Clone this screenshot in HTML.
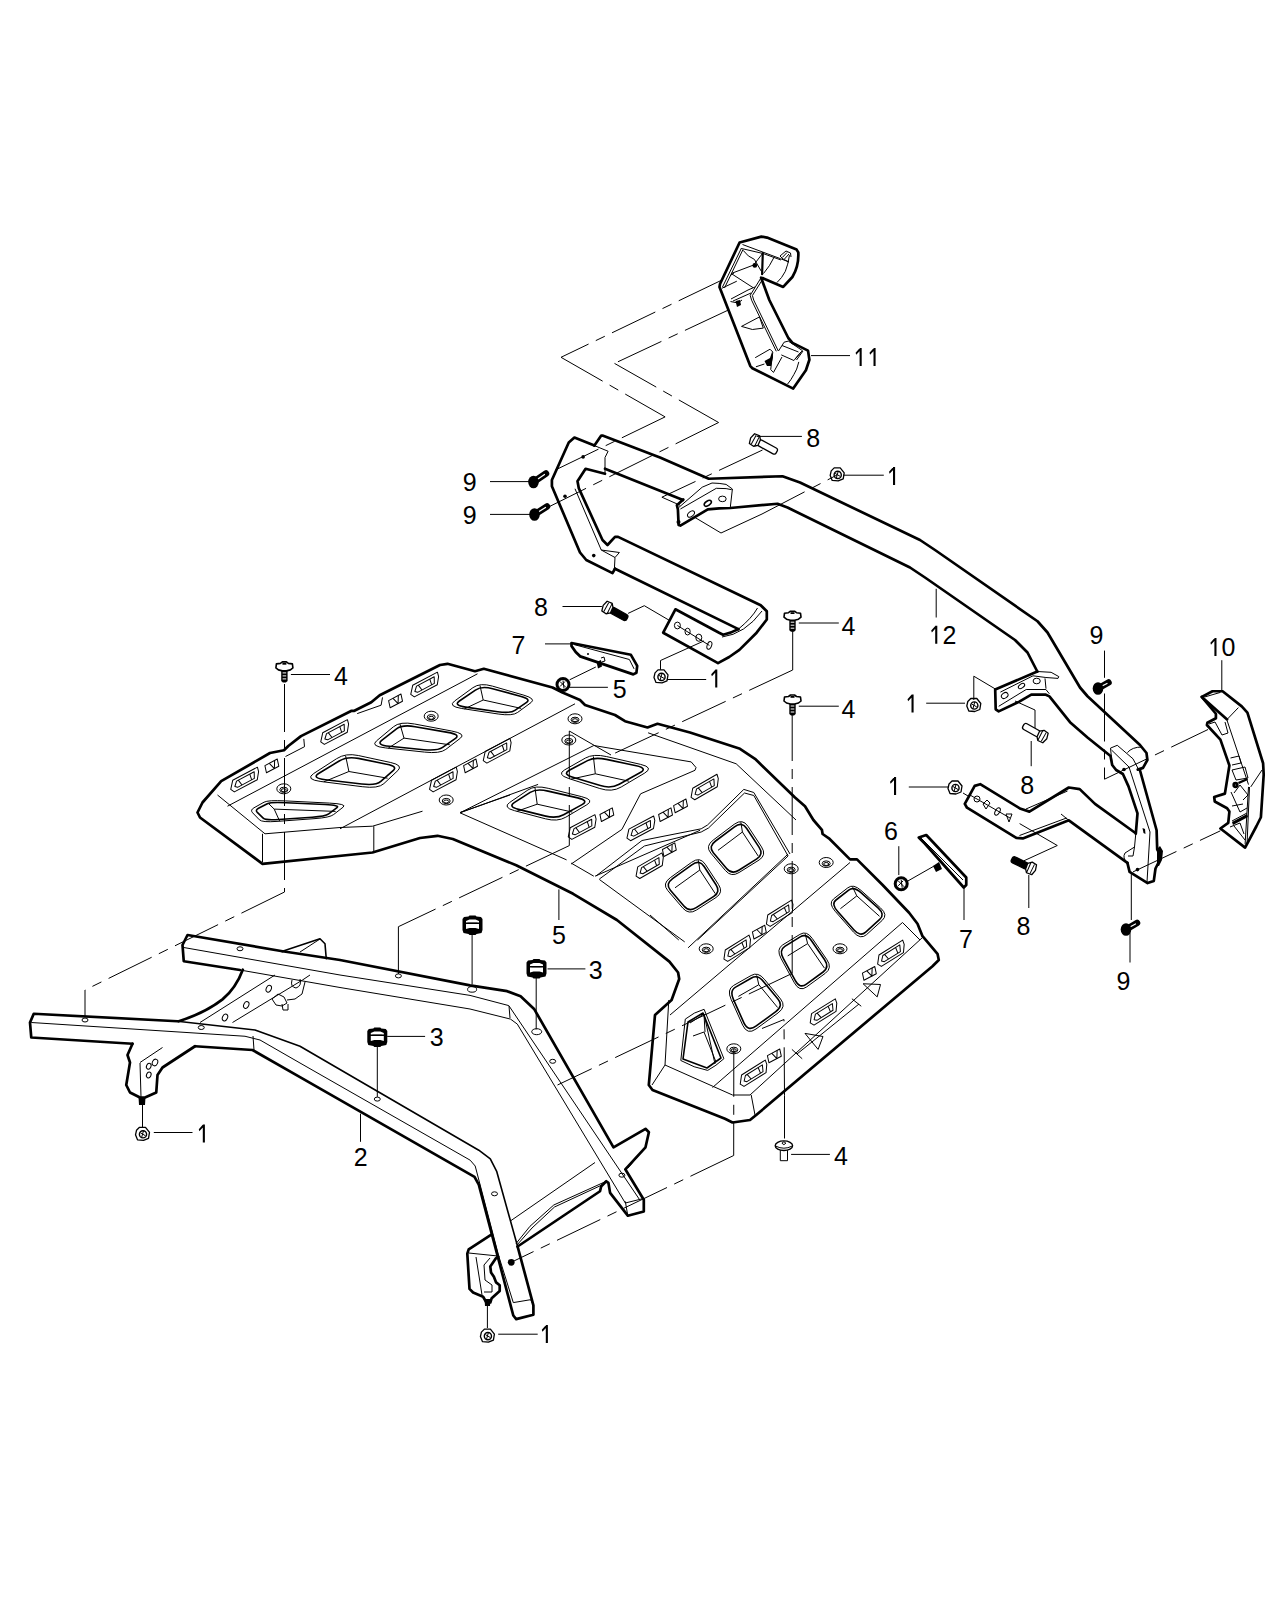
<!DOCTYPE html>
<html><head><meta charset="utf-8"><title>Parts diagram</title>
<style>
html,body{margin:0;padding:0;background:#fff;}
svg{display:block;}
.k{fill:none;stroke:#000;stroke-width:2.7;stroke-linejoin:round;stroke-linecap:round;}
.m{fill:none;stroke:#000;stroke-width:1.6;stroke-linejoin:round;stroke-linecap:round;}
.t{fill:none;stroke:#000;stroke-width:1;stroke-linejoin:round;}
.d{fill:none;stroke:#000;stroke-width:1;stroke-dasharray:48 8 10 8;}
.f{fill:#000;stroke:none;}
text{font-family:"Liberation Sans",sans-serif;font-size:25px;fill:#000;}
</style></head><body>
<svg width="1280" height="1600" viewBox="0 0 1280 1600">
<!-- 10_p11.svg -->
<g id="p11">
<path class="k" d="M739.6,242.5 L761.4,236.6 L767,237.6 L796.6,249.6 L798.3,252.4 Q799,266 792.4,277 L783.2,286.9 L763.5,278.4 L761.1,277.7 L769.3,300 L788.3,338 L792.5,342.9 L808,350.6 L809.4,359.8 L805.9,370.3 L793.2,388.6 L752.4,368.2 L750.3,366.1 L719.5,287 L720,284 Z"/>
<!-- top face -->
<path class="t" d="M742.5,244.5 L780.5,258.7 L789,262 M741.5,248.5 L763,253.5 L781,260 M789,262 L783,259 L780,256 L786,251 L790.5,253 L791,257 M782.3,257.5 L787,252.5 M784.5,259 L789,254"/>
<path class="t" d="M741.5,248 L722.5,287 M743,249.5 L724.5,288"/>
<path class="m" d="M762.8,253.1 L762.1,274.2" style="stroke-width:2.2"/>
<path class="t" d="M743.1,250.3 Q748,257 754.4,259.4 L761.4,271.4 M731.2,273.5 L753.7,265 L762.8,253.1 M731.2,273.5 L753,287.6 M731,275 L734,273"/>
<path class="t" d="M774,257.3 Q770,266 763.5,273.5 M789.5,255.2 Q788,265 785.3,271.4 Q782,278 776.9,282.6"/>
<circle class="f" cx="754.8" cy="265.4" r="2.4"/>
<!-- center rib -->
<path class="t" d="M761.1,277.7 L750.2,295.3 L751.6,300.2 L776.3,351.3 M763.2,278.5 L752.4,295.5 L753.7,300 L778.3,351"/>
<path class="t" d="M722,288.2 L736.8,281.2 M741.5,326.4 L759.5,316.9 L763.3,328.1 L752.4,329.5 Z"/>
<path class="t" d="M731,299 L748,290 L755,287 M733,301 L751,293 M730.5,301.5 L738,303 L742,300"/>
<path class="f" d="M735.5,301 L740,300 L741,305 L737,307 Z"/>
<!-- bottom end -->
<path class="t" d="M784.1,342.2 L788.3,341.1 L802.4,350.6 L793.9,360.5 L781.3,354.9 M778.5,351 L784.1,342.2 M782,345.5 L798.5,352 M801,352 L795,359 M803,351 L796.5,360"/>
<path class="t" d="M755.2,357.7 L770,349.2 L772.8,352 L770.7,369.6 L773.5,372.4 L782,356.96 M755.9,366.8 L764.4,364 M798.8,361.9 Q797,370 793.9,374.5 Q791,380 787.6,384"/>
<path class="f" d="M764.5,361 L770,358 L772,352 L773,357 L771,366 L767,366 Z"/>
</g>
<g id="zig">
<path class="t" d="M811,355.6 L850,355.6"/>
</g>

<!-- 20_p12.svg -->
<g id="p12">
<!-- outer U + cap -->
<path class="k" d="M594.4,445.6 L574.4,437.5 L568.75,442.5 L551.9,480 L551.9,486.25 L580,552.5 L586.25,560 L612.5,573.1 L615,568.75"/>
<path class="k" d="M594.4,445.6 L601.25,435.6 L602.5,435.6 L660,457.5 L708.75,478.75 L782.5,476.25 L800,482.5 L920,540 L935,550 L1037.5,621.25 L1047.5,632.5 L1080,687.5 L1087.5,696.25 L1140,745 L1146.5,753 L1147.4,760 L1143,767.9 L1137.75,769.6"/>
<path class="t" d="M594.4,445.6 L608.1,451.25 L605,457.5 L605,473.75"/>
<path class="k" d="M605,468.75 L683,500"/>
<!-- inner U -->
<path class="k" d="M605,473.75 L585.6,468.75 L577.5,481.25 L578.75,488.1 L602.5,540 L607.5,545 L615,536.9 L618.1,536.9 L760.7,605.2 L766.8,611.3 L766.8,619.5 L756.6,632.7 L739.4,649.9 L729.2,657 L718,663.1 L663.2,632.7 L675.4,609.3 L719.1,632.7 L723.1,634.7 Q731,633 738.4,629.1"/>
<path class="k" d="M615,568.75 L738.4,629.1"/>
<path class="t" d="M738.4,629.1 Q752,618 757.5,608 M722,637 Q745,634 762,611 M575,488.75 L601.25,550 L619.4,552.5 L615,557.5 L614.4,568.75 M601.25,550 L615,557.5"/>
<circle class="f" cx="593.75" cy="555.6" r="1.8"/><circle class="f" cx="565" cy="496.25" r="1.8"/><circle class="f" cx="583.1" cy="456.9" r="1.8"/>
<!-- lower bracket holes -->
<g class="t"><ellipse cx="677.4" cy="625.5" rx="3" ry="3.4"/><ellipse cx="687.6" cy="631.6" rx="2.6" ry="3.4"/><ellipse cx="698.8" cy="637.7" rx="3" ry="3.6"/><ellipse cx="709.4" cy="645.4" rx="2.2" ry="4" transform="rotate(20 709.4 645.4)"/><path d="M677.4,625.5 L709.4,645.4"/></g>
<!-- upper bracket -->
<path class="k" d="M683.2,499.5 L676.9,505.2 L677.9,509.4 L678.6,524.9 L680.4,525.6 L707.8,509.4 L719.1,508.3 L730.3,508 L777.5,503.75 L787.5,507.5 L910,567.5 L925,577.5 L1015,640 L1027.5,652.5 L1037.3,671.5"/>
<path class="t" d="M679,507.3 L702.2,487.2 L712,483 L719.1,483.4 L726.1,484.4 L732.4,489 L730.3,507.3 M680.4,509 L716.3,488.3 L726.1,488.6 L731.7,489.7"/>
<g class="t"><ellipse cx="691" cy="514" rx="4" ry="2.4" transform="rotate(-40 691 514)"/><ellipse cx="707.8" cy="503.3" rx="4" ry="2.2" transform="rotate(-35 707.8 503.3)" style="stroke-width:1.6"/><ellipse cx="722.4" cy="498.9" rx="3.8" ry="2.8"/></g>
<circle class="f" cx="678.5" cy="522" r="2"/>
</g>

<!-- 21_p12r.svg -->
<g id="p12r">
<path class="k" d="M1037.3,671.5 L995.2,689.5 L995.7,709.3 L998.7,711.4 L1019.3,701.6 L1031.3,694.7 L1045.9,694.7 L1049.4,696.4 L1070,722.2 L1087.5,737.5 L1110.5,756 L1112.2,765 L1116.1,770 L1122.9,774 L1128.5,786.4 L1137.5,813.4 L1135.8,833.6"/>
<path class="k" d="M1139.75,769.5 L1156.6,830.25 L1157.2,849.4 L1160,855 L1158.9,861.75 L1155.5,868.5 L1153.8,880.9 L1147.6,883.1 L1129.6,871.9 L1127.4,862.9"/>
<path class="t" d="M1127.4,752.6 Q1132,747 1142,747 M1110.5,748.1 L1117.25,745.3 L1133,758.8 L1138.6,769.5 M1110.5,748.1 L1112.2,765 M1111.5,750 L1129,767 L1150,832 L1147,882 M1135.8,833.6 L1134.5,847 L1125,853 Q1122,858 1127.4,862.9 M1134.5,847 L1133,856 L1128,856"/>
<circle class="f" cx="1124" cy="769.5" r="1.8"/><circle class="f" cx="1137.5" cy="869.6" r="1.8"/><path class="f" d="M1142.5,828 l2.5,1 l0.5,5 l-2,-1 Z"/>
<path class="f" d="M1157,849 l3,-3 l3,5 l-1,9 l-3,6 l-2,0 Z"/>
<!-- lower arm -->
<path class="k" d="M1134.7,832.5 L1095,803.9 L1079.7,789.1 L1068.8,787.5 L1029.4,811.6 L1020.6,808.8 L980.2,784.2 L974.7,785.9 L964.8,803.9 L967,807.7 L1016.3,837.8 L1022.8,838.4 L1068.8,820.3 L1127.4,862.9"/>
<path class="t" d="M1026,809 L1067.5,791 M1019.5,835.5 L1066.5,818 M1061,814 L1068.8,820.3"/>
<g class="t"><circle cx="977" cy="799" r="3"/><path d="M983,804 L987,800 L990,803 L986,809 Z"/><ellipse cx="997.5" cy="811.5" rx="2.2" ry="4" transform="rotate(30 997.5 811.5)"/><path d="M1006,814 L1012,814 L1009,822 Z"/><path d="M970,795 L1010,818"/></g>
<!-- upper right bracket -->
<path class="t" d="M1037.3,671.5 L1051.1,672.3 L1058.8,676.6 L1058,678.4 L1045.9,677.5 L1033,675.8 L1000.4,692.1 M998.7,706.3 L1026.2,689.5 L1045.9,689.5 L1049.4,693.8 M1045,678.4 L1046,688.7"/>
<g class="t"><ellipse cx="1004.7" cy="695.5" rx="3.6" ry="2.6" transform="rotate(-35 1004.7 695.5)"/><ellipse cx="1021.5" cy="686" rx="3.6" ry="2" transform="rotate(-35 1021.5 686)"/><ellipse cx="1036.7" cy="681" rx="3.6" ry="2.8"/></g>
</g>
</g>

<!-- 22_p10.svg -->
<g id="p10">
<path class="k" d="M1201.8,696.9 L1212.5,691.25 L1222.6,691.25 L1241.75,706.4 L1247.4,712.6 L1263.1,763.25 L1263.7,774.5 L1260.9,817.25 L1256.4,826.25 L1245.1,847.6 L1220.4,828.5 L1228.25,822.9 L1229.4,811.6 L1227.1,808.25 L1214.75,801.5 L1214.2,797 L1224.9,793.6 L1229.4,765.5 L1220.4,739.6 L1206.9,725 L1207.4,722.75 L1215.9,718.25 L1215.9,713.75 Z"/>
<path class="k" d="M1201.8,696.9 L1227.1,719.4"/>
<path class="t" d="M1204.6,697 L1220.4,692.4 M1227.1,719.4 L1238.4,707.6 M1227.1,720.5 L1248.5,784.6 M1250.75,786.9 L1262,770 M1248.5,786.9 L1245.1,844.25 M1249.5,787 L1247,845"/>
<path class="t" d="M1209,724 L1215,722 L1222,735 L1228,733 L1225,722 M1230.5,758 L1239,756 L1241,763 L1232,765 M1232,770 L1245,767 L1248,778 L1236,780 Z M1234,793 L1240,785 L1248,795 L1243,800 M1231,792 L1240,812 L1247,808 M1232,806 L1243,804 M1232,821 L1247,813 M1234,826 L1245,840 M1230,827 L1240,823 L1244,834"/>
<path class="f" d="M1232,822 l15,-8 l1,3 l-15,8 Z M1238,782 l9,-4 l1,2 l-9,4 Z"/>
<circle class="k" cx="1235.5" cy="785" r="1.8"/>
</g>

<!-- 30_rack.svg -->
<g id="rack">
<path class="k" d="M447.5,663.8 L440.0,665.0 L379.7,695.3 L371.3,702.3 L354.4,710.8 L351.6,710.8 L301.0,736.1 L288.3,746.0 L284.0,750.2 L270.0,753.0 L221.2,781.2 L202.5,802.5 L197.5,812.5 L200.0,817.5 L262.5,863.8 L372.5,852.5 L420.0,838.0 L437.5,835.8 L452.8,839.0 L516.2,865.3 L573.1,893.8 L616.9,920.0 L669.4,961.6 L678.1,972.5 L679.2,979.0 L671.6,1000.0 L655.0,1015.0 L648.8,1085.0 L652.5,1090.0 L725.0,1118.8 L732.5,1122.5 L750.0,1120.0 L756.2,1115.0 L932.5,966.2 L938.8,960.0 L937.5,953.8 L922.5,936.2 L917.5,923.8 L909.1,912.8 L882.4,884.7 L857.0,859.4 L850.0,859.4 L828.9,838.3 L822.6,834.0 L821.9,829.8 L813.4,820.0 L805.0,806.2 L795.0,797.5 L755.0,758.8 L740.0,748.8 L690.0,732.5 L657.5,723.8 L647.5,727.5 L625.0,721.2 L615.0,715.0 L585.0,705.0 L580.0,700.0 L562.5,692.5 L552.5,687.5 L483.8,668.8 L475.0,671.2 L447.5,663.8 Z"/>
<path class="t" d="M217.5,795.0 L265.0,833.8 L340.0,827.5 L372.5,826.2 L422.5,811.2"/>
<path class="t" d="M262.5,833.8 L262.5,862.0"/>
<path class="t" d="M373.8,826.2 L373.8,852.5"/>
<path class="t" d="M227.5,806.2 L477.5,673.8"/>
<path class="t" d="M340.0,828.8 L575.0,703.8"/>
<path class="t" d="M460.0,812.8 L538.1,784.4"/>
<path class="t" d="M460.0,812.8 L566.6,859.9"/>
<path class="t" d="M571.2,863.1 L593.8,876.2"/>
<path class="t" d="M460.0,812.8 L593.8,745.5 L691.2,761.9 L696.0,767.5 L695.0,770.3 L640.6,793.8 L621.9,829.4 L571.2,864.0"/>
<path class="t" d="M595.0,876.2 L700.0,830.3"/>
<path class="t" d="M599.4,879.5 L684.7,941.9"/>
<path class="t" d="M599.4,879.0 L644.4,846.0 L701.2,832.0 L708.5,828.0 L744.5,793.0 L753.8,795.5 L788.1,856.0"/>
<path class="t" d="M596.0,876.0 L642.0,840.5 L701.2,828.8 L707.5,825.0 L743.8,789.4 L753.8,792.5 L790.0,854.0"/>
<path class="t" d="M788.1,856.0 L697.5,940.0"/>
<path class="t" d="M650.0,915.0 L678.8,940.0"/>
<path class="t" d="M648.1,732.8 L736.2,763.8 L796.0,820.0"/>
<path class="t" d="M670.0,1015.0 L850.0,862.5"/>
<path class="t" d="M668.8,1000.0 L665.0,1065.0 L732.5,1095.0 L750.0,1095.0 L922.5,937.5"/>
<path class="t" d="M751.2,1095.0 L755.0,1115.0"/>
<path class="t" d="M712.5,1087.5 L902.5,922.5 L920.0,940.0"/>
<path class="t" d="M665.0,1065.0 L652.0,1085.0"/>
<path class="t" d="M460.0,812.5 L510.0,795.0"/>
<path class="t" d="M688.1,947.8 L788.1,854.0"/>
<path class="t" d="M264.0,802.2 Q268.0,800.0 285.4,800.9 L329.6,803.1 Q347.0,804.0 343.3,807.0 L333.7,814.5 Q330.0,817.5 315.0,818.6 L277.0,821.4 Q262.0,822.5 259.4,819.8 L252.6,812.8 Q250.0,810.0 254.0,807.8 Z"/>
<path class="m" d="M267.3,803.7 Q270.8,801.9 286.1,802.7 L325.0,804.5 Q340.3,805.2 337.0,807.7 L328.7,813.9 Q325.4,816.3 312.2,817.2 L278.7,819.5 Q265.5,820.4 263.2,818.1 L257.3,812.4 Q255.0,810.1 258.5,808.3 Z"/>
<path class="t" d="M268.0,803.0 L274.2,809.1 L335.6,811.4 M274.2,809.1 L279.7,821.2"/>
<path class="t" d="M336.6,758.7 Q345.6,752.8 358.3,755.5 L390.7,762.5 Q403.4,765.3 397.9,770.5 L383.9,783.6 Q378.4,788.8 362.2,786.7 L320.9,781.5 Q304.7,779.4 313.7,773.5 Z"/>
<path class="m" d="M339.2,761.0 Q347.1,756.2 358.3,758.4 L386.8,764.2 Q398.0,766.4 393.1,770.7 L380.8,781.4 Q376.0,785.7 361.7,784.0 L325.4,779.7 Q311.1,778.0 319.0,773.2 Z"/>
<path class="t" d="M345.6,755.8 L348.9,771.5 L387.6,778.2 M348.9,771.5 L323.9,781.8"/>
<path class="t" d="M393.4,726.8 Q400.0,721.2 414.6,724.0 L451.7,731.0 Q466.2,733.8 460.5,738.1 L445.8,749.4 Q440.0,753.8 424.6,752.1 L385.4,747.9 Q370.0,746.2 376.6,740.8 Z"/>
<path class="m" d="M396.5,728.9 Q402.3,724.4 415.1,726.7 L447.8,732.4 Q460.6,734.6 455.5,738.3 L442.6,747.4 Q437.5,751.0 423.9,749.7 L389.4,746.3 Q375.9,744.9 381.7,740.4 Z"/>
<path class="t" d="M400.0,724.2 L404.0,738.1 L449.8,744.8 M404.0,738.1 L388.2,748.2"/>
<path class="t" d="M472.9,687.7 Q480.0,682.5 492.4,686.1 L523.9,695.2 Q536.2,698.8 531.0,702.6 L517.7,712.4 Q512.5,716.2 498.2,714.0 L461.8,708.5 Q447.5,706.2 454.6,701.0 Z"/>
<path class="m" d="M475.4,690.1 Q481.7,685.8 492.6,688.8 L520.3,696.2 Q531.2,699.1 526.6,702.3 L514.9,710.3 Q510.3,713.5 497.7,711.7 L465.7,707.1 Q453.1,705.3 459.4,701.0 Z"/>
<path class="t" d="M480.0,685.5 L483.2,700.0 L521.2,708.4 M483.2,700.0 L464.4,708.9"/>
<path class="t" d="M585.3,758.1 Q593.4,753.5 606.7,756.6 L640.7,764.4 Q654.0,767.5 644.8,773.0 L621.2,787.0 Q612.0,792.5 599.8,788.5 L568.7,778.5 Q556.5,774.5 564.6,769.9 Z"/>
<path class="m" d="M587.5,760.6 Q594.7,756.8 606.4,759.4 L636.3,765.8 Q648.0,768.3 639.9,772.8 L619.2,784.3 Q611.0,788.8 600.3,785.6 L572.9,777.3 Q562.2,774.0 569.3,770.3 Z"/>
<path class="t" d="M593.4,756.5 L595.3,773.8 L628.9,781.2 M595.3,773.8 L570.9,779.2"/>
<path class="t" d="M527.9,790.0 Q535.0,785.0 548.2,788.3 L581.8,796.7 Q595.0,800.0 586.8,804.8 L565.8,817.2 Q557.5,822.0 545.4,818.8 L514.6,810.7 Q502.5,807.5 509.6,802.5 Z"/>
<path class="m" d="M530.2,792.4 Q536.5,788.4 548.1,791.1 L577.7,797.9 Q589.3,800.7 582.0,804.6 L563.6,814.7 Q556.3,818.7 545.7,816.1 L518.5,809.4 Q507.9,806.8 514.2,802.7 Z"/>
<path class="t" d="M535.0,788.0 L537.2,804.2 L572.4,812.1 M537.2,804.2 L516.8,811.3"/>
<path class="t" d="M734.2,824.3 Q742.5,818.1 747.9,826.2 L761.5,846.9 Q766.9,855.0 759.1,860.0 L739.1,872.5 Q731.2,877.5 725.5,870.6 L710.8,853.1 Q705.0,846.2 713.2,840.1 Z"/>
<path class="m" d="M734.5,826.8 Q741.9,821.2 746.7,828.5 L759.0,847.1 Q763.9,854.4 756.8,858.9 L738.8,870.2 Q731.8,874.7 726.6,868.5 L713.3,852.7 Q708.1,846.5 715.6,841.0 Z"/>
<path class="t" d="M718.0,850.3 L742.4,832.0 L758.2,856.0"/>
<path class="t" d="M740.9,822.2 L742.4,832.0"/>
<path class="t" d="M691.6,862.3 Q700.0,856.2 705.2,864.2 L718.5,884.5 Q723.8,892.5 716.0,897.5 L696.5,910.0 Q688.8,915.0 682.8,908.1 L667.8,890.6 Q661.9,883.8 670.3,877.7 Z"/>
<path class="m" d="M691.8,864.8 Q699.4,859.3 704.1,866.5 L716.0,884.8 Q720.7,891.9 713.8,896.4 L696.2,907.7 Q689.2,912.2 683.9,906.0 L670.4,890.2 Q665.1,884.1 672.6,878.6 Z"/>
<path class="t" d="M675.0,887.8 L699.8,870.0 L715.2,893.5"/>
<path class="t" d="M698.4,860.3 L699.8,870.0"/>
<path class="t" d="M847.8,887.8 Q853.3,883.5 861.0,890.4 L880.6,908.0 Q888.3,914.9 882.2,920.4 L866.6,934.6 Q860.5,940.1 853.4,932.0 L835.2,911.3 Q828.1,903.2 833.6,898.9 Z"/>
<path class="m" d="M848.7,890.1 Q853.7,886.2 860.7,892.4 L878.3,908.2 Q885.2,914.5 879.7,919.4 L865.7,932.1 Q860.2,937.1 853.8,929.8 L837.5,911.2 Q831.0,903.9 836.0,900.0 Z"/>
<path class="t" d="M840.4,908.7 L856.8,895.9 L879.5,916.3"/>
<path class="t" d="M852.7,887.2 L856.8,895.9"/>
<path class="t" d="M799.9,934.4 Q806.6,930.2 812.3,938.5 L826.9,959.7 Q832.6,968.0 825.3,973.3 L806.7,986.9 Q799.4,992.2 794.3,982.7 L781.1,958.6 Q776.0,949.1 782.7,944.9 Z"/>
<path class="m" d="M800.2,936.9 Q806.3,933.2 811.5,940.7 L824.6,959.7 Q829.7,967.2 823.1,972.0 L806.4,984.2 Q799.8,989.0 795.2,980.4 L783.4,958.7 Q778.8,950.2 784.8,946.4 Z"/>
<path class="t" d="M787.7,955.9 L807.6,943.6 L824.5,968.2"/>
<path class="t" d="M805.3,934.2 L807.6,943.6"/>
<path class="t" d="M751.1,975.5 Q758.0,971.5 764.3,979.2 L780.5,998.9 Q786.8,1006.6 778.1,1012.9 L756.0,1029.0 Q747.3,1035.3 742.7,1025.2 L731.2,999.6 Q726.6,989.5 733.5,985.5 Z"/>
<path class="m" d="M751.5,978.0 Q757.7,974.4 763.4,981.4 L777.9,999.1 Q783.6,1006.0 775.8,1011.7 L755.9,1026.2 Q748.0,1031.8 743.9,1022.8 L733.5,999.7 Q729.4,990.6 735.6,987.1 Z"/>
<path class="t" d="M738.4,996.4 L758.8,984.7 L777.6,1007.5"/>
<path class="t" d="M756.7,975.4 L758.8,984.7"/>
<path class="t" d="M685.3,1019.1 Q694,1012 704.1,1009.3 L723.9,1058.7 Q716,1066 707.7,1070.4 Q694,1068 680.8,1060.5 Z"/>
<path class="m" d="M688,1022 L703,1013 L721,1058 L707,1068 L683,1059 Z"/>
<path class="t" d="M690,1023 L704,1014 L715,1064 M693,1036 L704,1032 L716,1062 M704,1014 L705,1032"/>
<path class="t" d="M805,1033.4 L823,1036.5 L818.1,1049.4 Z M863.1,983.75 L880.5,984.5 L877.2,996.9 Z M791.9,1049.4 L802.2,1058.75 M851.9,998.75 L861.25,1006.25 M797,1054 L859,1004"/>
<g transform="translate(245.0 780.0) rotate(-28)"><polygon class="t" points="-17.0,1.6 -11.0,-5.5 17.0,-5.5 16.0,-1.1 11.0,5.5 -15.0,5.5"/><polygon class="t" points="-12,1 -8,-3 12,-3 9,3 -10,3"/><path class="t" d="M-6,-3 L-5,3 M7,-3 L6,3"/></g>
<g transform="translate(335.0 732.5) rotate(-28)"><polygon class="t" points="-17.0,1.6 -11.0,-5.5 17.0,-5.5 16.0,-1.1 11.0,5.5 -15.0,5.5"/><polygon class="t" points="-12,1 -8,-3 12,-3 9,3 -10,3"/><path class="t" d="M-6,-3 L-5,3 M7,-3 L6,3"/></g>
<g transform="translate(425.0 685.0) rotate(-28)"><polygon class="t" points="-17.0,1.6 -11.0,-5.5 17.0,-5.5 16.0,-1.1 11.0,5.5 -15.0,5.5"/><polygon class="t" points="-12,1 -8,-3 12,-3 9,3 -10,3"/><path class="t" d="M-6,-3 L-5,3 M7,-3 L6,3"/></g>
<g transform="translate(497.5 751.2) rotate(-28)"><polygon class="t" points="-17.0,1.6 -11.0,-5.5 17.0,-5.5 16.0,-1.1 11.0,5.5 -15.0,5.5"/><polygon class="t" points="-12,1 -8,-3 12,-3 9,3 -10,3"/><path class="t" d="M-6,-3 L-5,3 M7,-3 L6,3"/></g>
<g transform="translate(443.8 780.0) rotate(-28)"><polygon class="t" points="-17.0,1.6 -11.0,-5.5 17.0,-5.5 16.0,-1.1 11.0,5.5 -15.0,5.5"/><polygon class="t" points="-12,1 -8,-3 12,-3 9,3 -10,3"/><path class="t" d="M-6,-3 L-5,3 M7,-3 L6,3"/></g>
<g transform="translate(582.5 827.5) rotate(-28)"><polygon class="t" points="-17.0,1.6 -11.0,-5.5 17.0,-5.5 16.0,-1.1 11.0,5.5 -15.0,5.5"/><polygon class="t" points="-12,1 -8,-3 12,-3 9,3 -10,3"/><path class="t" d="M-6,-3 L-5,3 M7,-3 L6,3"/></g>
<g transform="translate(641.2 828.8) rotate(-28)"><polygon class="t" points="-17.0,1.6 -11.0,-5.5 17.0,-5.5 16.0,-1.1 11.0,5.5 -15.0,5.5"/><polygon class="t" points="-12,1 -8,-3 12,-3 9,3 -10,3"/><path class="t" d="M-6,-3 L-5,3 M7,-3 L6,3"/></g>
<g transform="translate(705.0 787.5) rotate(-30)"><polygon class="t" points="-17.0,1.6 -11.0,-5.5 17.0,-5.5 16.0,-1.1 11.0,5.5 -15.0,5.5"/><polygon class="t" points="-12,1 -8,-3 12,-3 9,3 -10,3"/><path class="t" d="M-6,-3 L-5,3 M7,-3 L6,3"/></g>
<g transform="translate(650.0 866.2) rotate(-30)"><polygon class="t" points="-17.0,1.6 -11.0,-5.5 17.0,-5.5 16.0,-1.1 11.0,5.5 -15.0,5.5"/><polygon class="t" points="-12,1 -8,-3 12,-3 9,3 -10,3"/><path class="t" d="M-6,-3 L-5,3 M7,-3 L6,3"/></g>
<g transform="translate(780.0 913.8) rotate(-32)"><polygon class="t" points="-17.0,1.6 -11.0,-5.5 17.0,-5.5 16.0,-1.1 11.0,5.5 -15.0,5.5"/><polygon class="t" points="-12,1 -8,-3 12,-3 9,3 -10,3"/><path class="t" d="M-6,-3 L-5,3 M7,-3 L6,3"/></g>
<g transform="translate(737.5 948.8) rotate(-32)"><polygon class="t" points="-17.0,1.6 -11.0,-5.5 17.0,-5.5 16.0,-1.1 11.0,5.5 -15.0,5.5"/><polygon class="t" points="-12,1 -8,-3 12,-3 9,3 -10,3"/><path class="t" d="M-6,-3 L-5,3 M7,-3 L6,3"/></g>
<g transform="translate(891.2 953.8) rotate(-32)"><polygon class="t" points="-17.0,1.6 -11.0,-5.5 17.0,-5.5 16.0,-1.1 11.0,5.5 -15.0,5.5"/><polygon class="t" points="-12,1 -8,-3 12,-3 9,3 -10,3"/><path class="t" d="M-6,-3 L-5,3 M7,-3 L6,3"/></g>
<g transform="translate(823.8 1012.5) rotate(-32)"><polygon class="t" points="-17.0,1.6 -11.0,-5.5 17.0,-5.5 16.0,-1.1 11.0,5.5 -15.0,5.5"/><polygon class="t" points="-12,1 -8,-3 12,-3 9,3 -10,3"/><path class="t" d="M-6,-3 L-5,3 M7,-3 L6,3"/></g>
<g transform="translate(753.8 1073.8) rotate(-32)"><polygon class="t" points="-17.0,1.6 -11.0,-5.5 17.0,-5.5 16.0,-1.1 11.0,5.5 -15.0,5.5"/><polygon class="t" points="-12,1 -8,-3 12,-3 9,3 -10,3"/><path class="t" d="M-6,-3 L-5,3 M7,-3 L6,3"/></g>
<g transform="translate(272.5 765.0) rotate(-28)"><polygon class="t" points="-7,-3 7,-3 5,4 -9,4"/><path class="t" d="M-2,-3 L0,4 L4,-3"/></g>
<g transform="translate(396.2 700.0) rotate(-28)"><polygon class="t" points="-7,-3 7,-3 5,4 -9,4"/><path class="t" d="M-2,-3 L0,4 L4,-3"/></g>
<g transform="translate(471.2 765.0) rotate(-28)"><polygon class="t" points="-7,-3 7,-3 5,4 -9,4"/><path class="t" d="M-2,-3 L0,4 L4,-3"/></g>
<g transform="translate(607.5 813.8) rotate(-28)"><polygon class="t" points="-7,-3 7,-3 5,4 -9,4"/><path class="t" d="M-2,-3 L0,4 L4,-3"/></g>
<g transform="translate(666.2 813.8) rotate(-28)"><polygon class="t" points="-7,-3 7,-3 5,4 -9,4"/><path class="t" d="M-2,-3 L0,4 L4,-3"/></g>
<g transform="translate(681.2 805.0) rotate(-28)"><polygon class="t" points="-7,-3 7,-3 5,4 -9,4"/><path class="t" d="M-2,-3 L0,4 L4,-3"/></g>
<g transform="translate(670.0 848.8) rotate(-28)"><polygon class="t" points="-7,-3 7,-3 5,4 -9,4"/><path class="t" d="M-2,-3 L0,4 L4,-3"/></g>
<g transform="translate(760.0 931.2) rotate(-28)"><polygon class="t" points="-7,-3 7,-3 5,4 -9,4"/><path class="t" d="M-2,-3 L0,4 L4,-3"/></g>
<g transform="translate(870.0 972.5) rotate(-28)"><polygon class="t" points="-7,-3 7,-3 5,4 -9,4"/><path class="t" d="M-2,-3 L0,4 L4,-3"/></g>
<g transform="translate(775.0 1055.0) rotate(-28)"><polygon class="t" points="-7,-3 7,-3 5,4 -9,4"/><path class="t" d="M-2,-3 L0,4 L4,-3"/></g>
<g class="t"><ellipse cx="575.0" cy="718.8" rx="7" ry="5"/><ellipse cx="575.0" cy="719.8" rx="4" ry="2.6"/><ellipse cx="575.0" cy="720.2" rx="2.5" ry="1.5"/></g>
<g class="t"><ellipse cx="568.8" cy="740.0" rx="7" ry="5"/><ellipse cx="568.8" cy="741.0" rx="4" ry="2.6"/><ellipse cx="568.8" cy="741.5" rx="2.5" ry="1.5"/></g>
<g class="t"><ellipse cx="446.2" cy="800.0" rx="7" ry="5"/><ellipse cx="446.2" cy="801.0" rx="4" ry="2.6"/><ellipse cx="446.2" cy="801.5" rx="2.5" ry="1.5"/></g>
<g class="t"><ellipse cx="431.2" cy="716.2" rx="7" ry="5"/><ellipse cx="431.2" cy="717.2" rx="4" ry="2.6"/><ellipse cx="431.2" cy="717.8" rx="2.5" ry="1.5"/></g>
<g class="t"><ellipse cx="283.8" cy="788.8" rx="7" ry="5"/><ellipse cx="283.8" cy="789.8" rx="4" ry="2.6"/><ellipse cx="283.8" cy="790.2" rx="2.5" ry="1.5"/></g>
<g class="t"><ellipse cx="791.2" cy="868.8" rx="7" ry="5"/><ellipse cx="791.2" cy="869.8" rx="4" ry="2.6"/><ellipse cx="791.2" cy="870.2" rx="2.5" ry="1.5"/></g>
<g class="t"><ellipse cx="826.2" cy="862.5" rx="7" ry="5"/><ellipse cx="826.2" cy="863.5" rx="4" ry="2.6"/><ellipse cx="826.2" cy="864.0" rx="2.5" ry="1.5"/></g>
<g class="t"><ellipse cx="706.2" cy="948.8" rx="7" ry="5"/><ellipse cx="706.2" cy="949.8" rx="4" ry="2.6"/><ellipse cx="706.2" cy="950.2" rx="2.5" ry="1.5"/></g>
<g class="t"><ellipse cx="840.0" cy="948.8" rx="7" ry="5"/><ellipse cx="840.0" cy="949.8" rx="4" ry="2.6"/><ellipse cx="840.0" cy="950.2" rx="2.5" ry="1.5"/></g>
<g class="t"><ellipse cx="733.8" cy="1048.8" rx="7" ry="5"/><ellipse cx="733.8" cy="1049.8" rx="4" ry="2.6"/><ellipse cx="733.8" cy="1050.2" rx="2.5" ry="1.5"/></g>
<path class="t" d="M285.5,756.5 L304.5,746.7 L303.8,738.9 M357.2,713.6 L381.1,705.2 L382.5,697.4"/>
</g>
<!-- 40_frame.svg -->
<g id="frame">
<!-- front tube -->
<path class="k" d="M177.5,1021.25 L33.75,1013.75 L30,1022.5 L31.25,1037.5 L132.5,1043.75"/>
<path class="k" d="M195,1046.25 L252.5,1050 L300,1077.2 L474.5,1176.8 L478.8,1184.7 L513.3,1315.5 L516.2,1319.1 L533.4,1314.8 L533.4,1305.4 L517.6,1246.5"/>
<path class="m" d="M177.5,1021.25 L255,1030 L300,1046.2 L478.8,1150.2 L490.3,1158.8 L496.8,1171.7 L517.6,1246.5"/>
<path class="t" d="M31.25,1022.5 L245,1036.25 L260,1040 L300,1063 L470.2,1160.2 L475.2,1166 L498.9,1256.6 L513.3,1302.6 L530.6,1299.7 L533.4,1305.4 M253,1036 L254,1050"/>
<!-- rear tube -->
<path class="k" d="M282.5,951.25 L187.5,935 L182.5,945 L183.75,961.25 L240,970"/>
<path class="k" d="M282.5,951.25 L340,960 L470,985.3 L507.1,991.2 L520.6,996.3 L534.1,1008.9 L613.5,1147.3 L645.5,1128.8 L648.9,1132.2 L645.5,1147.3 L625.3,1169.3 L643.8,1199.7 L643.8,1211.5 L627.8,1215.7 L610.1,1192.9 L608.4,1182.8 L606.25,1181.25 L601.25,1186.25 L600,1191.25 L517.6,1246.5"/>
<path class="t" d="M183.75,947.5 L340,975 L470,995.4 L508.8,1005.6 L639.6,1199.7 M240,970 L340,987.5 L470,1009 L510.5,1019.1 L517.3,1024.1 L625.3,1203 L642.2,1198.8 M625.3,1201.4 L627.8,1215.7 M509,1006 L510,1018 M606.25,1181.25 L553.75,1205 L530,1226.25 L516,1243.6 M604,1184 L554.5,1207 L532,1228 L517,1245 M595,1162.5 L510,1221.25 M645.5,1147.3 L628,1168"/>
<path class="m" d="M282.5,951.25 L320,938.75 L325,943.75 L326.25,958.75"/>
<path class="k" d="M242.8,969.7 Q236,988 222.5,999.4 Q205,1013 178.75,1021.25"/>
<path class="t" d="M200,1022.5 L275,975 M232.5,1022.5 L302.5,980 L310,975 M320,939 L300,952"/>
<!-- rear leg brackets -->
<path class="k" d="M132.5,1043.75 L127.5,1055 L130,1062.5 L126.25,1085 L130,1092.5 L140,1097.5 L145,1097.5 L156.25,1092.5 L157.5,1075 L162.5,1067.5 L195,1046.25"/>
<path class="t" d="M140,1062.5 L162.5,1047.5 M140,1063 L141,1097"/>
<g class="t"><ellipse cx="155" cy="1062.5" rx="2.6" ry="3.4" transform="rotate(25 155 1062.5)"/><ellipse cx="148.75" cy="1066.25" rx="2.2" ry="3" transform="rotate(25 148.75 1066.25)"/><ellipse cx="148.75" cy="1075" rx="2.2" ry="3" transform="rotate(25 148.75 1075)"/>
<ellipse cx="225" cy="1017.5" rx="2.5" ry="3.5" transform="rotate(25 225 1017.5)"/><ellipse cx="246.25" cy="1005" rx="2.5" ry="3.5" transform="rotate(25 246.25 1005)"/><ellipse cx="268.75" cy="988.75" rx="2.5" ry="3.5" transform="rotate(25 268.75 988.75)"/></g>
<path class="t" d="M272,999 L278,994 L284,997 L287,1003 L282,1006 L276,1005 Z M282,1004 L283,1010 L288,1010 L288,1004 M292,980 Q290,987 296,988 Q302,986 300,979 M305,982 L302,994 L295,999 L287,1000"/>
<path class="k" d="M491.7,1234.3 L468.7,1249.4 L467.3,1253.7 L469.5,1288.9 L473.1,1292.5 L483.1,1296.8 L486,1301.8 L490.3,1302.5 L491.7,1298.2 L499.7,1291 L499.7,1285.3 L496.1,1282.4 L493.9,1276.7 L491,1272.4 L490.3,1266.6 L496.1,1258 L498.2,1256.6"/>
<path class="t" d="M468.7,1253 L498,1256 M476,1257 L482,1295 M490,1258 L484,1265 L485,1280 L492,1285 L492,1292 L484,1292"/>
<circle class="f" cx="511.2" cy="1262.3" r="3.4"/>

<g class="t"><ellipse cx="85" cy="1020" rx="3" ry="2"/><ellipse cx="201.25" cy="1027.5" rx="3" ry="2"/><ellipse cx="240" cy="948.75" rx="3" ry="2"/><ellipse cx="398.4" cy="975.9" rx="3" ry="2"/><ellipse cx="472.1" cy="989.4" rx="4.5" ry="2.8"/><ellipse cx="536.7" cy="1031.7" rx="5" ry="3"/><ellipse cx="552.7" cy="1061.3" rx="3" ry="2"/><ellipse cx="621.9" cy="1175.2" rx="3" ry="2"/><ellipse cx="494.5" cy="1193.8" rx="3" ry="2"/><ellipse cx="377.3" cy="1099.1" rx="3" ry="2"/></g>
</g>

<!-- 50_fast.svg -->
<g id="fast">
<g transform="translate(837.2 474.4) scale(1.00)"><polygon class="m" points="-3,-6.5 3,-6.5 7,-1.5 6,4.5 1,6.5 -5,6 -7,1 -6,-3.5" style="stroke-width:1.3"/><circle class="m" cx="0.5" cy="0.5" r="3.6" style="stroke-width:1.4"/><path class="t" d="M-2,-1 L3,2 M1,-3 L-1,4"/></g>
<g transform="translate(661.0 676.4) scale(1.00)"><polygon class="m" points="-3,-6.5 3,-6.5 7,-1.5 6,4.5 1,6.5 -5,6 -7,1 -6,-3.5" style="stroke-width:1.3"/><circle class="m" cx="0.5" cy="0.5" r="3.6" style="stroke-width:1.4"/><path class="t" d="M-2,-1 L3,2 M1,-3 L-1,4"/></g>
<g transform="translate(973.8 705.0) scale(1.00)"><polygon class="m" points="-3,-6.5 3,-6.5 7,-1.5 6,4.5 1,6.5 -5,6 -7,1 -6,-3.5" style="stroke-width:1.3"/><circle class="m" cx="0.5" cy="0.5" r="3.6" style="stroke-width:1.4"/><path class="t" d="M-2,-1 L3,2 M1,-3 L-1,4"/></g>
<g transform="translate(955.0 787.5) scale(1.00)"><polygon class="m" points="-3,-6.5 3,-6.5 7,-1.5 6,4.5 1,6.5 -5,6 -7,1 -6,-3.5" style="stroke-width:1.3"/><circle class="m" cx="0.5" cy="0.5" r="3.6" style="stroke-width:1.4"/><path class="t" d="M-2,-1 L3,2 M1,-3 L-1,4"/></g>
<g transform="translate(142.5 1133.8) scale(1.00)"><polygon class="m" points="-3,-6.5 3,-6.5 7,-1.5 6,4.5 1,6.5 -5,6 -7,1 -6,-3.5" style="stroke-width:1.3"/><circle class="m" cx="0.5" cy="0.5" r="3.6" style="stroke-width:1.4"/><path class="t" d="M-2,-1 L3,2 M1,-3 L-1,4"/></g>
<g transform="translate(487.4 1335.6) scale(1.00)"><polygon class="m" points="-3,-6.5 3,-6.5 7,-1.5 6,4.5 1,6.5 -5,6 -7,1 -6,-3.5" style="stroke-width:1.3"/><circle class="m" cx="0.5" cy="0.5" r="3.6" style="stroke-width:1.4"/><path class="t" d="M-2,-1 L3,2 M1,-3 L-1,4"/></g>
<g transform="translate(472.5 925.0)"><path class="f" d="M-3,-9.5 L3,-9.5 L4,-8.5 L8.5,-8 L10,-6 L10,5 L9,8 L4,9 L3,10 L-3,10 L-4,9 L-9,8 L-10,5 L-10,-6 L-8.5,-8 L-4,-8.5 Z"/><path d="M-6.5,-4 L-3,-5.5 L3,-5.5 L6.5,-4 L6.5,-2.5 L-6.5,-2.5 Z M-6.5,-1 L6.5,-1 L6.5,4 L3,3 L-3,3 L-6.5,4 Z" fill="#fff"/><path d="M-5,-1.8 L5,-1.8" stroke="#000" stroke-width="1"/></g>
<g transform="translate(536.5 968.5)"><path class="f" d="M-3,-9.5 L3,-9.5 L4,-8.5 L8.5,-8 L10,-6 L10,5 L9,8 L4,9 L3,10 L-3,10 L-4,9 L-9,8 L-10,5 L-10,-6 L-8.5,-8 L-4,-8.5 Z"/><path d="M-6.5,-4 L-3,-5.5 L3,-5.5 L6.5,-4 L6.5,-2.5 L-6.5,-2.5 Z M-6.5,-1 L6.5,-1 L6.5,4 L3,3 L-3,3 L-6.5,4 Z" fill="#fff"/><path d="M-5,-1.8 L5,-1.8" stroke="#000" stroke-width="1"/></g>
<g transform="translate(377.3 1037.0)"><path class="f" d="M-3,-9.5 L3,-9.5 L4,-8.5 L8.5,-8 L10,-6 L10,5 L9,8 L4,9 L3,10 L-3,10 L-4,9 L-9,8 L-10,5 L-10,-6 L-8.5,-8 L-4,-8.5 Z"/><path d="M-6.5,-4 L-3,-5.5 L3,-5.5 L6.5,-4 L6.5,-2.5 L-6.5,-2.5 Z M-6.5,-1 L6.5,-1 L6.5,4 L3,3 L-3,3 L-6.5,4 Z" fill="#fff"/><path d="M-5,-1.8 L5,-1.8" stroke="#000" stroke-width="1"/></g>
<g transform="translate(563.0 684.5)"><circle cx="0" cy="0" r="6.0" fill="none" stroke="#000" stroke-width="3"/><path class="t" d="M-3,-3 L3,3 M-3,2 L2,-3 M0,-4 L1,4"/></g>
<g transform="translate(901.2 883.8)"><circle cx="0" cy="0" r="6.0" fill="none" stroke="#000" stroke-width="3"/><path class="t" d="M-3,-3 L3,3 M-3,2 L2,-3 M0,-4 L1,4"/></g>
<path d="M533.5,482.0 L546.0,473.5" stroke="#000" stroke-width="6.5" stroke-linecap="round"/><path d="M536.5,480.0 L544.5,474.5" stroke="#fff" stroke-width="1.3" stroke-linecap="round"/><ellipse cx="533.5" cy="482.0" rx="5.3" ry="6.3" fill="#000"/>
<path d="M534.5,514.5 L547.0,506.5" stroke="#000" stroke-width="6.5" stroke-linecap="round"/><path d="M537.5,512.5 L545.5,507.5" stroke="#fff" stroke-width="1.3" stroke-linecap="round"/><ellipse cx="534.5" cy="514.5" rx="5.3" ry="6.3" fill="#000"/>
<path d="M1098.0,688.5 L1108.5,682.5" stroke="#000" stroke-width="6.5" stroke-linecap="round"/><path d="M1101.0,686.5 L1107.0,683.5" stroke="#fff" stroke-width="1.3" stroke-linecap="round"/><ellipse cx="1098.0" cy="688.5" rx="5.3" ry="6.3" fill="#000"/>
<path d="M1126.0,929.5 L1137.0,923.0" stroke="#000" stroke-width="6.5" stroke-linecap="round"/><path d="M1129.0,927.5 L1135.5,924.0" stroke="#fff" stroke-width="1.3" stroke-linecap="round"/><ellipse cx="1126.0" cy="929.5" rx="5.3" ry="6.3" fill="#000"/>
<g transform="translate(284.4 670.9)"><path class="m" d="M-8,-7 L-4,-7.5 L-2,-9 L2,-9 L4,-7.5 L8,-7 L8.5,-3 L6,-1 L2,0 L-2,0 L-6,-1 L-8.5,-3 Z" style="stroke-width:1.6"/><path class="f" d="M-2,-8 h4 v1.8 h-4 Z"/><path d="M-3.2,0 L-3.2,10 L-1.5,11.5 L1.5,11.5 L3.2,10 L3.2,0" fill="#000"/><path d="M-1.8,2 h3.6 M-1.8,5 h3.6 M-1.8,8 h3.6" stroke="#fff" stroke-width="1"/></g>
<g transform="translate(792.5 620.2)"><path class="m" d="M-8,-7 L-4,-7.5 L-2,-9 L2,-9 L4,-7.5 L8,-7 L8.5,-3 L6,-1 L2,0 L-2,0 L-6,-1 L-8.5,-3 Z" style="stroke-width:1.6"/><path class="f" d="M-2,-8 h4 v1.8 h-4 Z"/><path d="M-3.2,0 L-3.2,10 L-1.5,11.5 L1.5,11.5 L3.2,10 L3.2,0" fill="#000"/><path d="M-1.8,2 h3.6 M-1.8,5 h3.6 M-1.8,8 h3.6" stroke="#fff" stroke-width="1"/></g>
<g transform="translate(792.5 704.0)"><path class="m" d="M-8,-7 L-4,-7.5 L-2,-9 L2,-9 L4,-7.5 L8,-7 L8.5,-3 L6,-1 L2,0 L-2,0 L-6,-1 L-8.5,-3 Z" style="stroke-width:1.6"/><path class="f" d="M-2,-8 h4 v1.8 h-4 Z"/><path d="M-3.2,0 L-3.2,10 L-1.5,11.5 L1.5,11.5 L3.2,10 L3.2,0" fill="#000"/><path d="M-1.8,2 h3.6 M-1.8,5 h3.6 M-1.8,8 h3.6" stroke="#fff" stroke-width="1"/></g>
<g transform="translate(783.9 1141.2)"><ellipse class="m" cx="0" cy="4.5" rx="8.7" ry="4.8" style="stroke-width:1.4"/><path class="t" d="M-8,5 Q0,9 8,5 M-2,2 L0,0.5 L2,2 L0,3.5 Z"/><path class="t" d="M-3.6,9 L-3.6,19.5 L3.6,19.5 L3.6,9"/></g>
<g transform="translate(755.5 440.5) rotate(28.6)"><rect x="3" y="-3.3" width="21.1" height="6.6" rx="2.3" fill="#fff" stroke="#000" stroke-width="1.3"/><polygon class="m" points="-4,-5.5 1.5,-6 4,-3 4.5,3 1,6 -4,5.5 -5.5,0" style="fill:#fff;stroke-width:1.3"/><path class="t" d="M-2,-5 L-2,5 M1.5,-5.5 L2,5.5"/></g>
<g transform="translate(608.0 608.0) rotate(28.8)"><rect x="3" y="-3.3" width="18.8" height="6.6" rx="2.3" fill="#000" stroke="#000" stroke-width="1.3"/><polygon class="m" points="-4,-5.5 1.5,-6 4,-3 4.5,3 1,6 -4,5.5 -5.5,0" style="fill:#fff;stroke-width:1.3"/><path class="t" d="M-2,-5 L-2,5 M1.5,-5.5 L2,5.5"/></g>
<g transform="translate(1042.0 736.0) rotate(-150.6)"><rect x="3" y="-3.3" width="18.4" height="6.6" rx="2.3" fill="#fff" stroke="#000" stroke-width="1.3"/><polygon class="m" points="-4,-5.5 1.5,-6 4,-3 4.5,3 1,6 -4,5.5 -5.5,0" style="fill:#fff;stroke-width:1.3"/><path class="t" d="M-2,-5 L-2,5 M1.5,-5.5 L2,5.5"/></g>
<g transform="translate(1030.5 868.0) rotate(-154.0)"><rect x="3" y="-3.3" width="17.7" height="6.6" rx="2.3" fill="#000" stroke="#000" stroke-width="1.3"/><polygon class="m" points="-4,-5.5 1.5,-6 4,-3 4.5,3 1,6 -4,5.5 -5.5,0" style="fill:#fff;stroke-width:1.3"/><path class="t" d="M-2,-5 L-2,5 M1.5,-5.5 L2,5.5"/></g>
<path class="f" d="M138.5,1097 L145.5,1097 L145,1105 L139,1105 Z"/><path class="f" d="M484.5,1299 L490.5,1299 L490,1306 L485,1306 Z"/>
<path class="k" d="M571.5,643 L630.9,654.8 L637.2,665.8 L636.4,672.8 L633.3,674.4 L580.2,656.4 Q575,652 571.5,646 Z"/><path class="t" d="M573.9,644.5 L629.4,659.5 L634.1,668.9"/><path class="f" d="M596.5,662 L601,660 L602,666.5 L598,668.5 Z"/><path class="t" d="M601,658 L604,657 L605,661 L601.5,662"/><circle class="f" cx="588" cy="654" r="1"/>
<path class="k" d="M918.75,837.5 L926.25,835 L966.25,877.5 L966.25,885 L963.75,887.5 L925,843.75 Z"/><path class="t" d="M921,838 L963,880"/><path class="f" d="M933,866 L939,862 L942,869 L936,872 Z"/>
</g>
<!-- 80_lines.svg -->
<g id="lines">
<path class="t" d="M756.6,436.4 L801.9,436.4"/>
<path class="t" d="M843.1,475.2 L883.8,475.2"/>
<path class="t" d="M490.0,481.6 L529.1,481.6"/>
<path class="t" d="M490.0,514.4 L530.0,514.4"/>
<path class="t" d="M562.5,606.5 L601.9,606.5"/>
<path class="t" d="M545.0,643.9 L570.8,643.9"/>
<path class="t" d="M569.2,687.3 L607.9,687.3"/>
<path class="t" d="M666.9,679.5 L706.2,679.5"/>
<path class="t" d="M290.9,674.5 L330.0,674.5"/>
<path class="t" d="M798.8,623.0 L838.8,623.0"/>
<path class="t" d="M798.8,706.2 L838.8,706.2"/>
<path class="t" d="M936.2,588.8 L936.2,617.5"/>
<path class="t" d="M1104.5,650.6 L1104.5,677.8"/>
<path class="t" d="M1221.8,660.2 L1221.8,690.9"/>
<path class="t" d="M926.2,703.2 L965.0,703.2"/>
<path class="t" d="M1031.2,741.0 L1031.2,766.2"/>
<path class="t" d="M908.8,787.0 L948.8,787.0"/>
<path class="t" d="M898.8,846.2 L898.8,875.0"/>
<path class="t" d="M964.0,887.0 L964.0,920.0"/>
<path class="t" d="M1028.8,875.0 L1028.8,908.0"/>
<path class="t" d="M1130.0,932.5 L1130.0,962.5"/>
<path class="t" d="M558.9,889.4 L558.9,920.0"/>
<path class="t" d="M547.5,968.9 L585.4,968.9"/>
<path class="t" d="M387.2,1036.4 L425.1,1036.4"/>
<path class="t" d="M472.1,933.7 L472.1,984.4"/>
<path class="t" d="M536.2,976.0 L536.2,1029.4"/>
<path class="t" d="M377.3,1044.8 L377.3,1096.9"/>
<path class="t" d="M360.5,1113.7 L360.5,1141.8"/>
<path class="t" d="M153.8,1132.5 L192.5,1132.5"/>
<path class="t" d="M142.5,1100.0 L142.5,1128.0"/>
<path class="t" d="M791.1,1154.4 L829.9,1154.4"/>
<path class="t" d="M784.5,1138.5 L784.5,1095.3"/>
<path class="t" d="M498.2,1334.2 L537.7,1334.2"/>
<path class="t" d="M487.4,1305.0 L487.4,1328.0"/>
<path class="t" d="M628.1,613.4 L644.3,605.7 L669.6,620.5"/>
<path class="t" d="M660.5,669.7 L660.5,660.5 L704.0,640.9"/>
<path class="t" d="M569.6,679.8 L595.8,667.0"/>
<path class="t" d="M973.8,700.0 L973.8,676.2 L995.0,688.8"/>
<path class="t" d="M1015.0,701.0 L1035.0,710.0 L1035.0,728.0"/>
<path class="t" d="M1023.9,860.8 L1057.3,845.5 L1019.6,823.6"/>
<path class="t" d="M907.5,881.2 L933.8,866.2"/>
<path class="t" d="M963.0,793.0 L968.0,796.0"/>
<path class="d" d="M722.0,280.0 L561.0,357.3"/>
<path class="d" d="M561.0,357.3 L665.1,416.9"/>
<path class="d" d="M665.1,416.9 L545.0,475.0"/>
<path class="d" d="M728.4,310.0 L614.5,363.4"/>
<path class="d" d="M614.5,363.4 L718.6,422.5"/>
<path class="d" d="M718.6,422.5 L547.5,507.5"/>
<path class="d" d="M284.5,684.0 L284.5,892.0"/>
<path class="d" d="M284.5,892.0 L85.0,990.0"/>
<path class="d" d="M85.0,990.0 L85.0,1017.0"/>
<path class="d" d="M792.7,631.0 L792.7,670.0"/>
<path class="d" d="M792.7,670.0 L611.0,755.0"/>
<path class="d" d="M611.0,755.0 L569.3,731.0"/>
<path class="d" d="M569.3,731.0 L569.3,845.6"/>
<path class="d" d="M569.3,845.6 L398.4,926.7"/>
<path class="d" d="M398.4,926.7 L398.4,974.0"/>
<path class="d" d="M792.2,713.0 L792.2,973.4"/>
<path class="d" d="M792.2,973.4 L557.5,1085.0"/>
<path class="d" d="M784.5,1095.3 L784.0,1019.5"/>
<path class="d" d="M784.0,1019.5 L762.0,1028.5"/>
<path class="d" d="M733.8,1048.8 L733.7,1155.5"/>
<path class="d" d="M733.7,1155.5 L511.2,1262.3"/>
<path class="d" d="M762.5,450.0 L661.9,497.2"/>
<path class="t" d="M661.9,497.2 L680.2,505.3"/>
<path class="t" d="M695.0,517.5 L721.0,533.0 L762.0,514.0"/>
<path class="d" d="M762.0,514.0 L837.0,475.0"/>
<path class="d" d="M1104.5,693.5 L1104.5,779.2"/>
<path class="d" d="M1104.5,779.2 L1208.0,729.5"/>
<path class="d" d="M1131.3,874.1 L1131.3,920.0"/>
<path class="d" d="M1133.0,871.9 L1220.4,830.8"/>
</g>
<!-- 90_labels.svg -->
<path class="f" d="M859.6,348.0 h2.1 v18 h-2.1 Z M855.6,352.8 L859.8,348.0 L860.2,350.4 L856.2,354.8 Z"/>
<path class="f" d="M873.5,348.0 h2.1 v18 h-2.1 Z M869.5,352.8 L873.7,348.0 L874.1,350.4 L870.1,354.8 Z"/>
<text x="806.3" y="446.6">8</text>
<path class="f" d="M893.0,467.0 h2.1 v18 h-2.1 Z M889.0,471.8 L893.2,467.0 L893.6,469.4 L889.6,473.8 Z"/>
<text x="462.8" y="491.2">9</text>
<text x="462.8" y="523.8">9</text>
<text x="534.0" y="616.2">8</text>
<text x="511.5" y="653.8">7</text>
<text x="612.8" y="697.5">5</text>
<path class="f" d="M715.2,669.5 h2.1 v18 h-2.1 Z M711.2,674.3 L715.5,669.5 L715.9,671.9 L711.9,676.3 Z"/>
<path class="f" d="M935.2,625.8 h2.1 v18 h-2.1 Z M931.2,630.5 L935.5,625.8 L935.9,628.1 L931.9,632.5 Z"/>
<text x="942.4" y="643.8">2</text>
<text x="1089.5" y="643.6">9</text>
<path class="f" d="M911.5,694.5 h2.1 v18 h-2.1 Z M907.5,699.3 L911.7,694.5 L912.1,696.9 L908.1,701.3 Z"/>
<text x="1020.2" y="793.8">8</text>
<path class="f" d="M894.0,777.0 h2.1 v18 h-2.1 Z M890.0,781.8 L894.2,777.0 L894.6,779.4 L890.6,783.8 Z"/>
<text x="884.0" y="840.0">6</text>
<path class="f" d="M1214.4,637.9 h2.1 v18 h-2.1 Z M1210.4,642.7 L1214.6,637.9 L1215.0,640.3 L1211.0,644.7 Z"/>
<text x="1221.6" y="655.9">0</text>
<text x="334.0" y="685.0">4</text>
<text x="841.5" y="635.0">4</text>
<text x="841.5" y="717.5">4</text>
<text x="959.0" y="947.5">7</text>
<text x="1016.5" y="935.0">8</text>
<text x="1116.5" y="990.0">9</text>
<text x="834.0" y="1165.0">4</text>
<text x="552.0" y="943.6">5</text>
<text x="588.7" y="978.7">3</text>
<text x="429.8" y="1046.0">3</text>
<text x="353.8" y="1165.8">2</text>
<path class="f" d="M202.8,1124.5 h2.1 v18 h-2.1 Z M198.8,1129.3 L202.9,1124.5 L203.3,1126.9 L199.3,1131.3 Z"/>
<path class="f" d="M545.8,1325.0 h2.1 v18 h-2.1 Z M541.8,1329.8 L546.0,1325.0 L546.4,1327.4 L542.4,1331.8 Z"/>
</svg></body></html>
